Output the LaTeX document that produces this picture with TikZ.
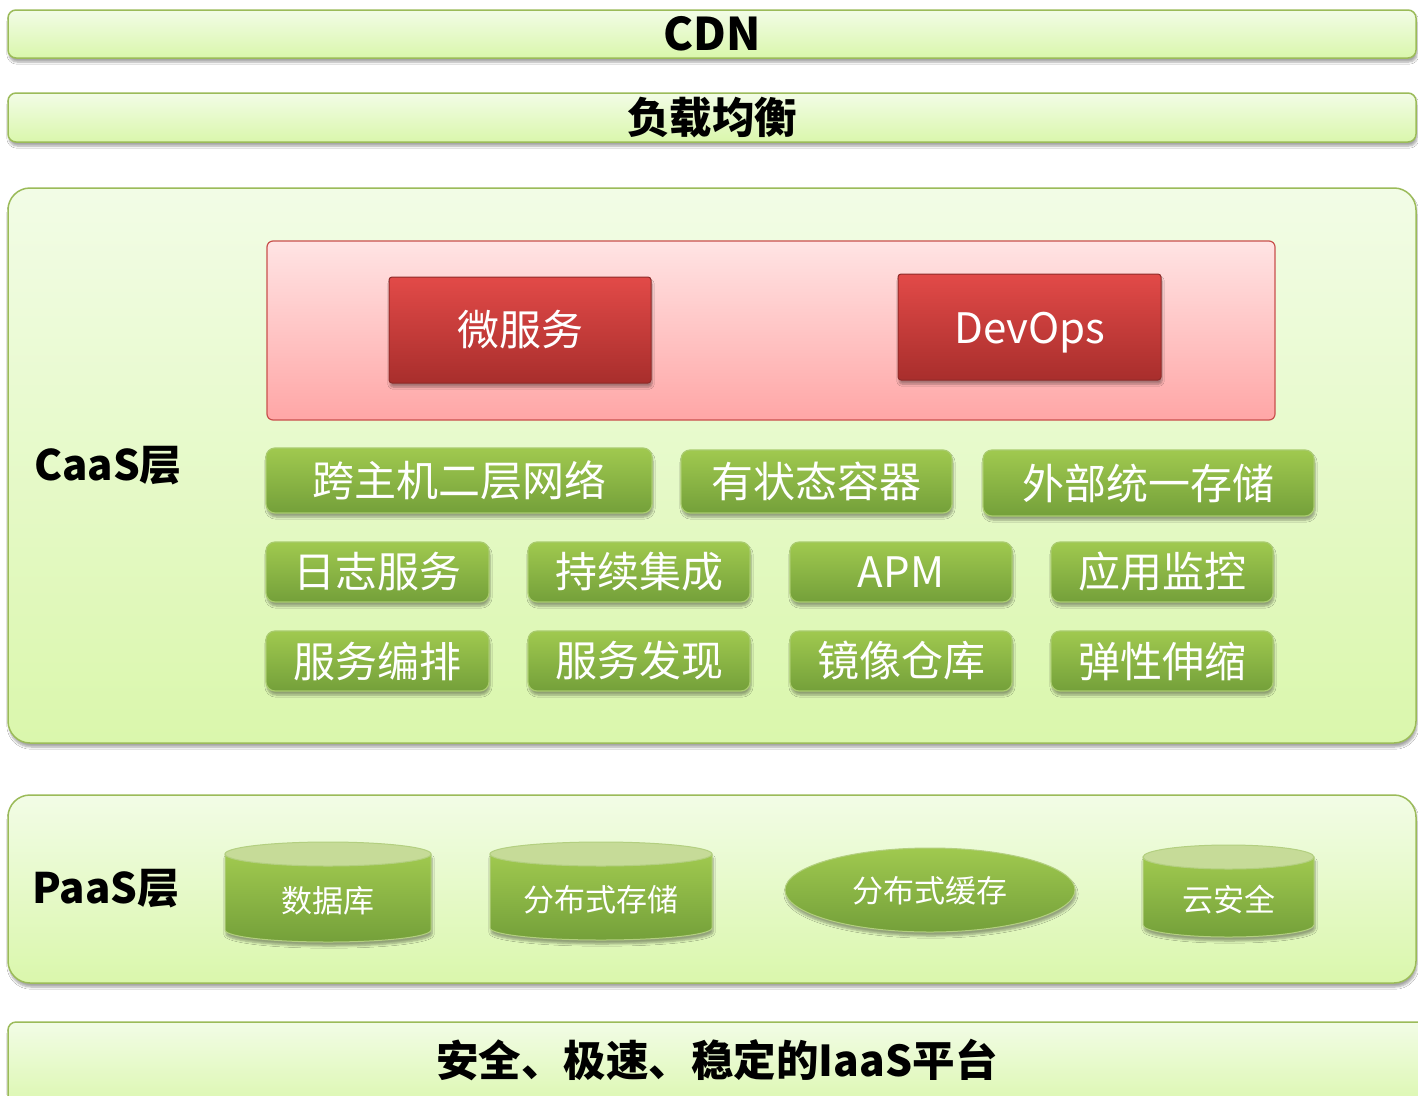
\documentclass[tikz,border=0pt]{standalone}
\usepackage{fontspec}
\setmainfont{Noto Sans CJK SC}
\usetikzlibrary{shadows,shadows.blur,shapes.geometric}
\definecolor{barTop}{HTML}{F2FCE6}
\definecolor{barBot}{HTML}{DAF7AC}
\definecolor{barBorder}{HTML}{9BBB59}
\definecolor{btnTop}{HTML}{A0C94F}
\definecolor{btnBot}{HTML}{74A03A}
\definecolor{btnBorder}{HTML}{A9CB6E}
\definecolor{redTop}{HTML}{E24A48}
\definecolor{redBot}{HTML}{A82E2C}
\definecolor{redBorder}{HTML}{8E2B29}
\definecolor{pinkTop}{HTML}{FFE4E4}
\definecolor{pinkBot}{HTML}{FFA6A6}
\definecolor{pinkBorder}{HTML}{C9504D}
\definecolor{cylTopC}{HTML}{C6DB98}
\definecolor{cylEdge}{HTML}{B3CF80}
\tikzset{
  myshadow/.style={blur shadow={shadow xshift=1pt, shadow yshift=-4pt, shadow opacity=35, shadow blur steps=6}},
  bar/.style={draw=barBorder, line width=1.5pt, rounded corners=8pt, top color=barTop, bottom color=barBot, myshadow, inner sep=0pt},
  panel/.style={draw=barBorder, line width=1.5pt, rounded corners=22pt, top color=barTop, bottom color=barBot, myshadow, inner sep=0pt},
  pinkpanel/.style={draw=pinkBorder, line width=1.2pt, rounded corners=6pt, top color=pinkTop, bottom color=pinkBot, inner sep=0pt},
  redbtn/.style={draw=redBorder, line width=1pt, rounded corners=3pt, top color=redTop, bottom color=redBot, myshadow, text=white, font=\fontsize{42}{50}\selectfont, inner sep=0pt},
  btntext/.style={text=white, font=\fontsize{42}{50}\selectfont, inner sep=0pt},
  greenbtn/.style={draw=btnBorder, line width=1.2pt, rounded corners=9pt, top color=btnTop, bottom color=btnBot, myshadow, text=white, font=\fontsize{42}{50}\selectfont, inner sep=0pt},
  title/.style={font=\bfseries\fontsize{42.5}{50}\selectfont, text=black},
  layerlabel/.style={font=\bfseries\fontsize{42}{50}\selectfont, text=black},
  cylbody/.style={draw=cylEdge, line width=1pt, top color=btnTop, bottom color=btnBot, myshadow},
  cyltop/.style={draw=cylEdge, line width=1pt, fill=cylTopC},
  cyltext/.style={text=white, font=\fontsize{31}{36}\selectfont, inner sep=0pt},
}
\newcommand\mycyl[6]{%
  \pgfmathsetmacro\cxx{(#2+#3)/2}%
  \pgfmathsetmacro\rxx{(#3-#2)/2}%
  \pgfmathsetmacro\ryy{12}%
  \pgfmathsetmacro\yta{#4+\ryy}%
  \pgfmathsetmacro\ybb{#5-\ryy}%
  \pgfmathsetmacro\kx{0.5523*\rxx}%
  \pgfmathsetmacro\ky{0.5523*\ryy}%
  \path[cylbody] (#2,\yta) -- (#2,\ybb) .. controls (#2,\ybb+\ky) and (\cxx-\kx,#5) .. (\cxx,#5) .. controls (\cxx+\kx,#5) and (#3,\ybb+\ky) .. (#3,\ybb) -- (#3,\yta) -- cycle;
  \path[cyltop] (\cxx,\yta) ellipse [x radius=\rxx, y radius=\ryy];
  \pgfmathsetmacro\tyy{(#4+#5)/2+9}%
  \node[cyltext] (#1) at (\cxx,\tyy) {#6};
}
\begin{document}
\begin{tikzpicture}[x=1pt,y=-1pt]
\useasboundingbox (0,0) rectangle (1418,1095);
\fill[white] (0,0) rectangle (1418,1095);

% top bars
\node[bar, minimum width=1408, minimum height=48] (cdnbar) at (712,34) {};
\node[title, font=\bfseries\fontsize{45}{52}\selectfont] (cdn) at (712,34) {CDN};
\node[bar, minimum width=1408, minimum height=49] (lbbar) at (712,117.5) {};
\node[title] (lb) at (712,118) {负载均衡};

% CaaS panel
\node[panel, minimum width=1408, minimum height=555] (caas) at (712,465.5) {};
\node[layerlabel] (caaslabel) at (108,466) {CaaS层};
\node[pinkpanel, minimum width=1008, minimum height=179] (pink) at (771,330.5) {};
\node[redbtn, minimum width=262, minimum height=106] (ms) at (520,330) {微服务};
\node[redbtn, minimum width=263, minimum height=106] (devops) at (1029.5,327) {};
\node[btntext] (devopstext) at (1030,333) {DevOps};

\node[greenbtn, minimum width=386, minimum height=65] (g11) at (459,480.5) {跨主机二层网络};
\node[greenbtn, minimum width=271, minimum height=63] (g12) at (816.5,481.5) {有状态容器};
\node[greenbtn, minimum width=331, minimum height=66] (g13) at (1148.5,483) {外部统一存储};

\node[greenbtn, minimum width=223, minimum height=60] (g21) at (377.5,572) {日志服务};
\node[greenbtn, minimum width=222, minimum height=60] (g22) at (639,572) {持续集成};
\node[greenbtn, minimum width=222, minimum height=60] (g23) at (901,572) {APM};
\node[greenbtn, minimum width=222, minimum height=60] (g24) at (1162,572) {应用监控};

\node[greenbtn, minimum width=223, minimum height=60] (g31) at (377.5,661) {服务编排};
\node[greenbtn, minimum width=222, minimum height=60] (g32) at (639,661) {服务发现};
\node[greenbtn, minimum width=222, minimum height=60] (g33) at (901,661) {镜像仓库};
\node[greenbtn, minimum width=222, minimum height=60] (g34) at (1162,661) {弹性伸缩};

% PaaS panel
\node[panel, minimum width=1408, minimum height=188] (paas) at (712,889) {};
\node[layerlabel] (paaslabel) at (106,889) {PaaS层};
\mycyl{db}{225}{431}{842}{942}{数据库}
\mycyl{dstore}{490}{712}{842}{940}{分布式存储}
\mycyl{csec}{1143}{1314}{845}{937}{云安全}
\path[cylbody] (930,890) ellipse [x radius=145, y radius=42];
\node[cyltext] (dcache) at (930,891) {分布式缓存};

% bottom bar
\node[bar, minimum width=1430, minimum height=90] (iaasbar) at (723,1067) {};
\node[title, font=\bfseries\fontsize{42.5}{50}\selectfont] (iaas) at (717,1060) {安全、极速、稳定的IaaS平台};
\end{tikzpicture}
\end{document}
